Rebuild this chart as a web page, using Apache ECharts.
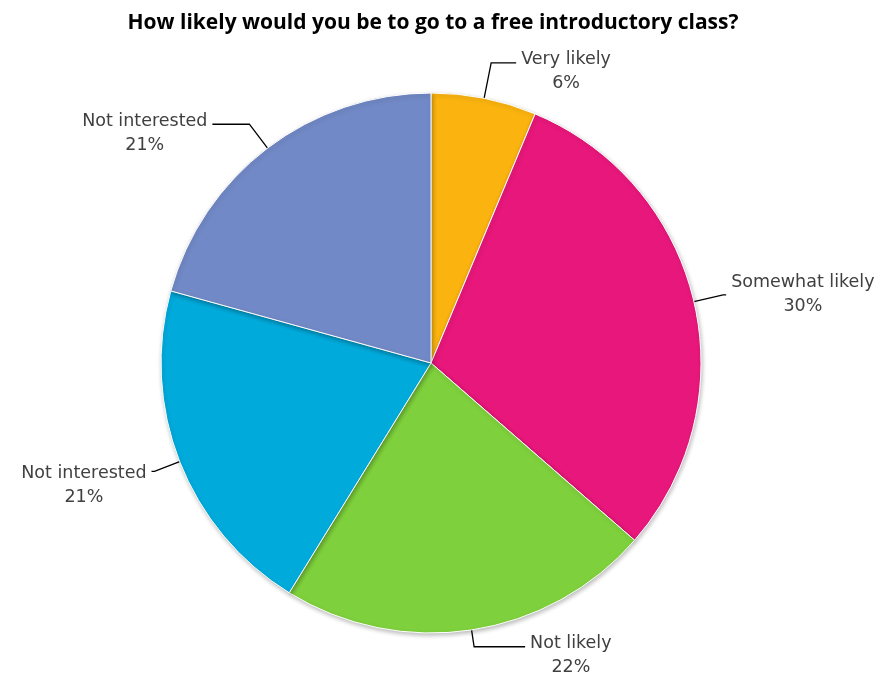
<!DOCTYPE html>
<html>
<head>
<meta charset="utf-8">
<script src="https://cdn.jsdelivr.net/npm/echarts@6/dist/echarts.min.js"></script>
<style>
html,body{margin:0;padding:0;background:#fff;}
#chart{width:887px;height:675px;}
</style>
</head>
<body>
<div id="chart"></div>
<script>
const titleText = 'How likely would you be to go to a free introductory class?';
const categories = ['Very likely', 'Somewhat likely', 'Not likely', 'Not interested', 'Not interested'];
const values = [6.3, 30.1, 22.4, 20.5, 20.7];
const colors = ['#FBB40F', '#E8177B', '#7ED03C', '#00ABDC', '#7189C6'];
const lineLengths = [36, 30, 17, 27, 30];
const lineLengths2 = [25, 3, 51, 3, 37];
const labelPadTop = [16, 0, 18, 27, 18];

const chart = echarts.init(document.getElementById('chart'));
const labelFont = 'DejaVu Sans';
const data = categories.map((c, i) => ({
  name: c,
  value: values[i],
  itemStyle: { color: colors[i] },
  label: { padding: [labelPadTop[i], 0, 0, 0] },
  labelLine: { length: lineLengths[i], length2: lineLengths2[i] }
}));
chart.setOption({
  animation: false,
  backgroundColor: '#ffffff',
  title: {
    text: titleText,
    left: 428,
    textAlign: 'center',
    top: 8,
    textStyle: { fontFamily: 'Open Sans', fontWeight: 'bold', fontSize: 21, color: '#000' }
  },
  series: [{
    type: 'pie',
    center: [431, 363],
    radius: 270,
    startAngle: 90,
    clockwise: true,
    avoidLabelOverlap: false,
    data: data,
    itemStyle: {
      borderColor: '#ffffff',
      borderWidth: 1,
      shadowBlur: 4,
      shadowOffsetX: 1,
      shadowOffsetY: 2,
      shadowColor: 'rgba(0,0,0,0.25)'
    },
    label: {
      show: true,
      position: 'outside',
      formatter: p => '{t|' + p.name + '}\n{t|' + Math.round(p.percent) + '%}',
      rich: {
        t: { align: 'center', fontFamily: labelFont, fontSize: 17.5, lineHeight: 24, color: '#404040' }
      }
    },
    labelLine: {
      show: true,
      smooth: false,
      lineStyle: { color: '#000000', width: 1.3 }
    }
  }]
});
</script>
</body>
</html>
